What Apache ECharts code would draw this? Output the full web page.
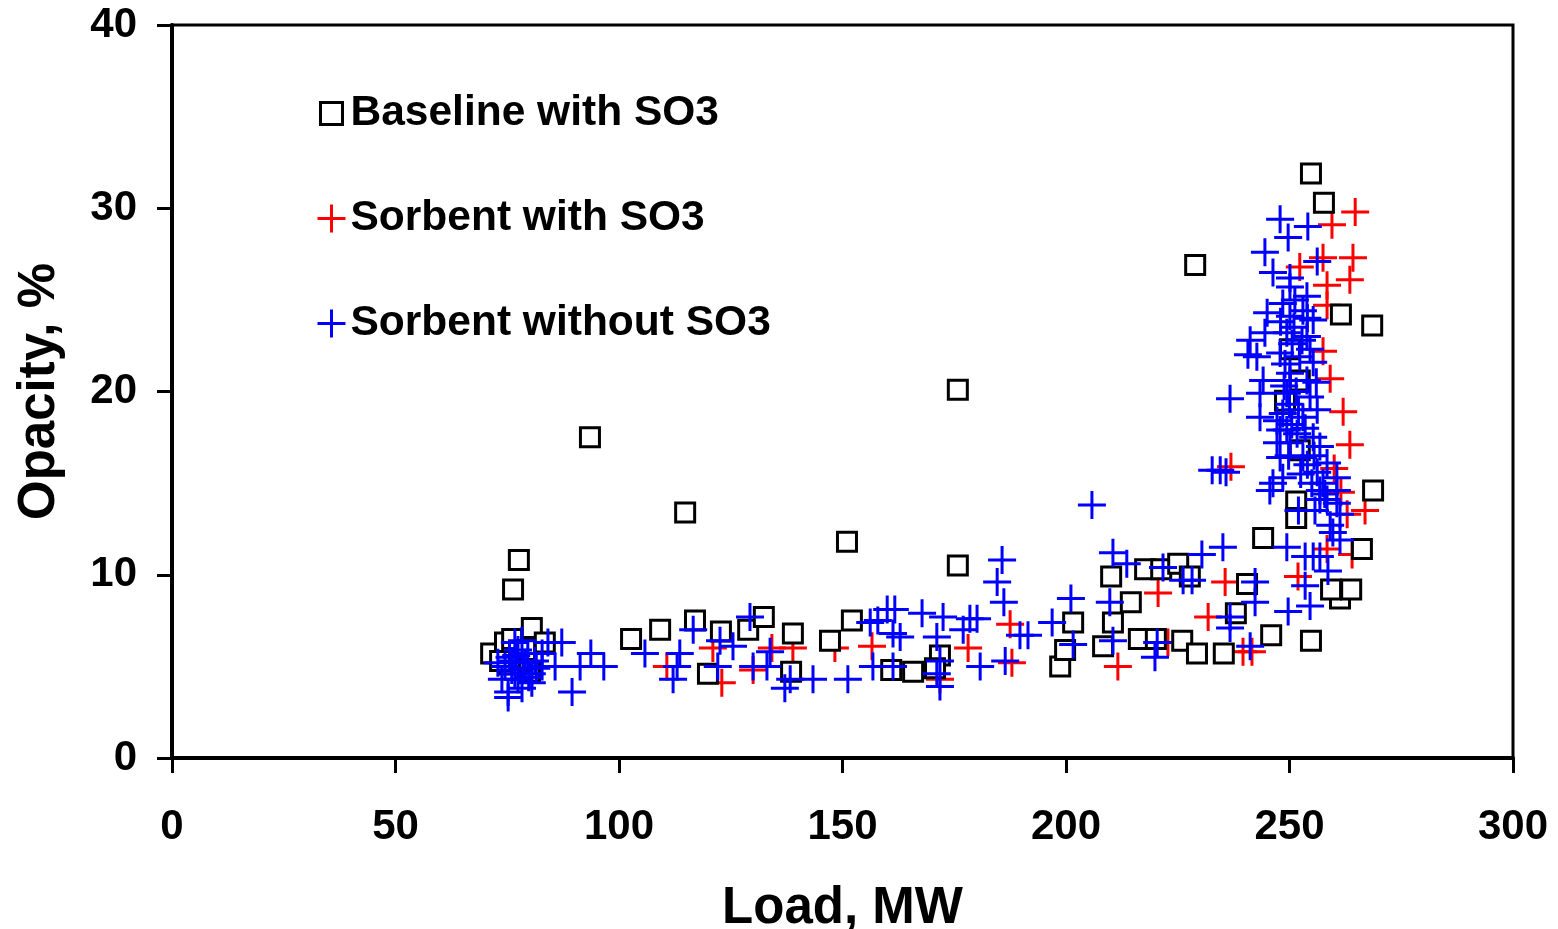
<!DOCTYPE html>
<html>
<head>
<meta charset="utf-8">
<script src="https://cdn.jsdelivr.net/npm/echarts@6/dist/echarts.min.js"></script>
<style>
html,body{margin:0;padding:0;background:#fff;}
#chart{width:1558px;height:929px;}
</style>
</head>
<body>
<div id="chart"></div>
<script>
// ---- Data (Load MW, Opacity %) ----
const seriesNames = ['Baseline with SO3', 'Sorbent with SO3', 'Sorbent without SO3'];
const xTicks = [0, 50, 100, 150, 200, 250, 300];
const yTicks = [0, 10, 20, 30, 40];

const baselineWithSO3 = [
  [71.4,5.7],[74.5,6.3],[76.1,6.5],[76.3,9.2],[77.6,10.8],[80.5,7.1],[83.4,6.3],[80.1,4.7],[77.9,5.3],[75.6,5.1],[79.0,5.9],[73.4,5.3],
  [93.5,17.5],[102.7,6.5],[109.2,7.0],[114.8,13.4],[117.0,7.5],[119.9,4.6],[122.8,6.9],[128.9,7.0],[132.4,7.7],[138.5,4.7],[138.9,6.8],
  [147.2,6.4],[152.1,7.5],[151.0,11.8],[160.9,4.8],[165.8,4.7],[171.8,5.6],[170.7,4.9],[175.8,10.5],[175.8,20.1],
  [198.7,5.0],[199.8,5.9],[201.6,7.4],[208.3,6.1],[210.1,9.9],[210.5,7.4],[214.5,8.5],[216.3,6.5],[217.7,10.3],[221.3,10.3],
  [220.1,6.5],[225.1,10.6],[227.7,9.9],[226.0,6.4],[229.3,5.7],[235.3,5.7],[238.0,7.9],[240.5,9.5],[228.9,26.9],
  [244.1,12.0],[245.9,6.7],[251.5,14.0],[251.5,13.1],[249.0,19.5],[254.8,6.4],[261.3,8.7],[259.3,9.2],[263.8,9.2],
  [268.7,14.6],[268.5,23.6],[254.8,31.9],[257.7,30.3],[261.5,24.2],[252.3,20.6],[252.3,16.8],
  [250.1,22.3],[266.2,11.4]
];

const sorbentWithSO3 = [
  [123.0,4.1],[121.0,6.0],[130.0,4.8],[134.2,6.0],[138.9,6.0],[148.3,6.0],[156.6,6.1],[171.8,4.3],[178.1,6.0],[187.9,5.2],
  [187.5,7.3],[110.7,5.0],[211.6,5.0],[220.6,9.0],[222.8,6.3],[231.8,7.7],[235.6,9.6],[239.6,5.8],[241.6,5.8],[236.9,15.9],
  [251.9,9.9],[258.4,11.4],[264.0,11.1],[262.9,13.3],[266.9,13.5],[263.5,17.1],[262.0,18.9],[257.5,22.2],[259.1,20.7],
  [258.4,24.7],[258.4,25.8],[257.5,27.3],[252.3,26.8],[259.5,29.1],[264.7,29.8],[264.2,27.3],[263.5,26.1],[260.0,15.8],[261.5,14.5]
];

const sorbentWithoutSO3 = [
  [87.2,6.3],[93.7,5.7],[91.3,5.0],[96.6,5.0],[89.5,3.6],[85.7,5.0],[82.8,5.0],[84.1,6.3],[75.2,3.6],[75.2,3.3],[77.4,4.3],
  [73.8,4.3],[77.4,5.9],[76.1,5.3],[79.0,5.2],[80.5,4.6],[76.7,4.6],[74.5,5.0],[79.6,5.7],[81.2,5.3],[72.9,5.2],[78.3,6.4],
  [76.7,6.3],[82.8,5.7],[80.5,4.1],[78.3,3.8],[77.0,5.6],[78.5,4.9],[79.8,4.4],[76.0,4.8],[81.5,4.9],[75.5,5.5],
  [105.8,5.7],[113.6,5.7],[113.0,5.0],[112.1,4.3],[116.6,7.0],[122.6,6.4],[122.1,5.0],[125.5,6.1],[129.3,7.7],[130.0,5.0],
  [133.1,5.0],[133.8,5.8],[137.1,3.8],[138.3,4.3],[143.4,4.3],[151.2,4.3],[156.8,5.0],[157.9,7.5],[161.7,8.1],[160.0,8.1],
  [161.3,6.8],[161.3,5.0],[167.8,7.9],[172.5,7.7],[171.1,6.6],[171.8,5.3],[171.1,4.6],[171.8,3.9],[156.2,7.4],[162.9,6.6],
  [205.8,13.8],[185.7,10.8],[184.6,9.6],[186.1,8.5],[178.5,7.6],[177.0,7.0],[180.1,7.6],[180.8,5.0],[186.4,5.3],[189.7,6.7],
  [191.5,6.7],[196.9,7.4],[201.1,8.7],[201.6,6.2],[210.5,11.2],[213.6,10.6],[209.8,8.5],[210.5,6.4],[221.7,10.4],[230.4,11.1],
  [235.1,11.5],[226.2,9.7],[228.2,9.7],[220.4,6.3],[219.9,5.5],[236.7,7.7],[236.7,7.1],
  [242.3,9.6],[253.5,9.4],[249.7,8.0],[254.6,8.3],[242.3,8.5],[241.2,6.1],[249.4,11.5],[255.3,11.0],[256.8,11.0],[258.6,10.2],
  [260.6,13.9],[259.7,12.3],[245.6,14.6],[232.7,15.7],[234.5,15.7],[235.8,15.6],[248.5,15.3],[260.6,15.3],[258.4,14.1],
  [261.3,13.3],[259.1,12.7],[261.3,11.9],[253.5,11.0],[256.8,14.6],[255.7,13.5],[257.9,14.4],
  [247.9,29.4],[254.1,29.0],[249.7,28.4],[244.5,27.6],[256.2,27.1],[246.3,26.5],[250.1,26.2],[250.1,25.7],[253.9,25.2],
  [248.5,24.8],[253.0,24.4],[245.0,24.3],[250.1,24.1],[255.3,23.9],[244.5,23.2],[249.4,23.2],[253.9,23.0],[250.6,22.6],
  [242.7,21.9],[247.9,22.1],[252.3,21.9],[255.3,21.6],[244.1,20.6],[250.1,20.6],[253.9,20.6],[236.7,19.6],[243.4,19.9],
  [249.4,19.9],[254.6,19.7],[243.4,18.6],[248.5,18.8],[253.0,18.6],[256.2,19.0],[247.9,17.9],[251.7,17.7],[255.3,17.5],
  [250.1,17.2],[247.2,17.2],[247.2,18.4],[249.4,17.9],[256.8,17.0],[253.0,16.4],[247.9,16.4],[258.4,16.1],[246.3,15.0],
  [256.2,15.6],[256.8,14.1],[260.6,14.6],[254.6,22.3],[250.1,21.0],[240.7,22.0],[241.2,22.8],
  [249.0,21.5],[251.0,23.5],[252.0,19.0],[250.5,18.2],[248.8,20.3],[252.8,22.8],[251.2,25.0],[249.8,16.5],[252.5,15.5],
  [254.0,16.0],[255.5,16.5],[257.5,15.0],[251.5,20.0],[253.5,18.0],[250.0,19.3],[248.0,23.8],[254.0,24.0],[256.0,20.5],
  [255.0,15.0],[252.0,13.5]
];

// ---- Styling ----
const FONT = '"Liberation Sans", Arial, Helvetica, sans-serif';
const PLUS = 'path://M12.5,0 H15.5 V12.5 H28 V15.5 H15.5 V28 H12.5 V15.5 H0 V12.5 H12.5 Z';
const SQUARE_ICON = 'path://M0,0 M28,28 M3,3 H25 V25 H3 Z';

const chart = echarts.init(document.getElementById('chart'), null, {renderer: 'canvas'});
const option = {
  animation: false,
  backgroundColor: '#fff',
  grid: {
    left: 172, top: 25, right: 45, bottom: 171,
    containLabel: false,
    outerBoundsMode: 'none',
    show: true, borderColor: '#000', borderWidth: 3, backgroundColor: 'transparent'
  },
  legend: {
    orient: 'vertical',
    left: 316, top: 92,
    padding: 0,
    itemWidth: 28, itemHeight: 28,
    itemGap: 62,
    itemTextGap: 13,
    textStyle: {fontFamily: FONT, fontWeight: 'bold', fontSize: 42.5, color: '#000', lineHeight: 42},
    selectedMode: false,
    data: [
      {name: seriesNames[0], icon: SQUARE_ICON, itemStyle: {color: '#fff', borderColor: '#000', borderWidth: 3}},
      {name: seriesNames[1], icon: PLUS, itemStyle: {color: '#ff0000', borderWidth: 0}},
      {name: seriesNames[2], icon: PLUS, itemStyle: {color: '#0000ff', borderWidth: 0}}
    ]
  },
  xAxis: {
    type: 'value', min: 0, max: 300, interval: 50,
    name: 'Load, MW', nameLocation: 'middle', nameGap: 125,
    nameTextStyle: {fontFamily: FONT, fontWeight: 'bold', fontSize: 51, color: '#000'},
    axisLine: {show: true, lineStyle: {color: '#000', width: 4}},
    axisTick: {show: true, inside: false, length: 15, lineStyle: {color: '#000', width: 3}},
    axisLabel: {fontFamily: FONT, fontWeight: 'bold', fontSize: 42, color: '#000', margin: 48,
      formatter: v => xTicks.includes(v) ? String(v) : ''},
    splitLine: {show: false}
  },
  yAxis: {
    type: 'value', min: 0, max: 40, interval: 10,
    name: 'Opacity, %', nameLocation: 'middle', nameGap: 107, nameRotate: 90,
    nameTextStyle: {fontFamily: FONT, fontWeight: 'bold', fontSize: 51, color: '#000'},
    axisLine: {show: true, lineStyle: {color: '#000', width: 4}},
    axisTick: {show: true, inside: false, length: 15, lineStyle: {color: '#000', width: 3}},
    axisLabel: {fontFamily: FONT, fontWeight: 'bold', fontSize: 42, color: '#000', margin: 35,
      formatter: v => yTicks.includes(v) ? String(v) : ''},
    splitLine: {show: false}
  },
  series: [
    {
      name: seriesNames[1], type: 'scatter', data: sorbentWithSO3,
      symbol: PLUS, symbolSize: 28, silent: true,
      itemStyle: {color: '#ff0000', opacity: 1}
    },
    {
      name: seriesNames[0], type: 'scatter', data: baselineWithSO3,
      symbol: 'rect', symbolSize: 19, silent: true,
      itemStyle: {color: '#fff', borderColor: '#000', borderWidth: 3, opacity: 1}
    },
    {
      name: seriesNames[2], type: 'scatter', data: sorbentWithoutSO3,
      symbol: PLUS, symbolSize: 28, silent: true,
      itemStyle: {color: '#0000ff', opacity: 1}
    }
  ]
};
chart.setOption(option);
</script>
</body>
</html>
